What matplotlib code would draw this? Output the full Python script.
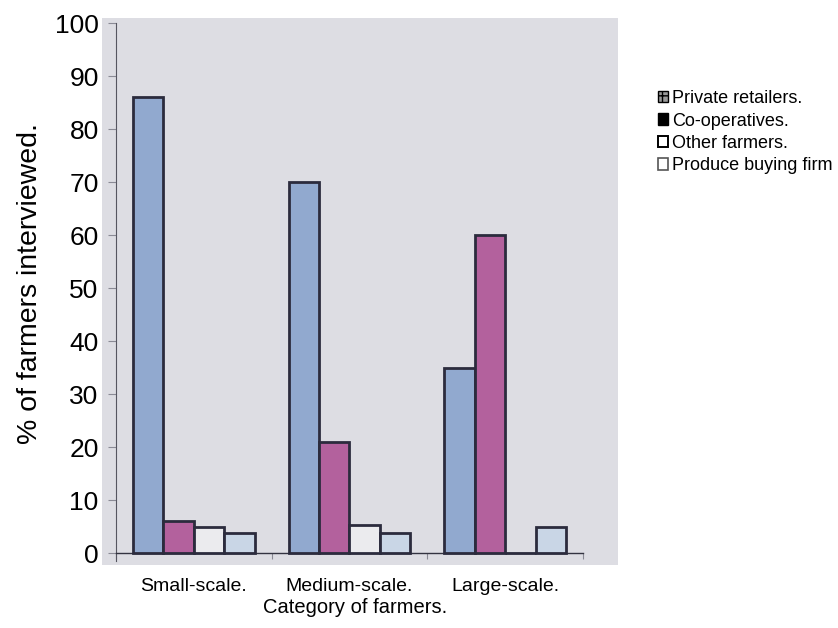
import matplotlib
matplotlib.use('Agg')
import matplotlib.pyplot as plt
from matplotlib.patches import Patch
import numpy as np

categories = ['Small-scale.', 'Medium-scale.', 'Large-scale.']
series_names = ['Private retailers.', 'Co-operatives.', 'Other farmers.', 'Produce buying firm']
private_retailers = [86, 70, 35]
co_operatives = [6, 21, 60]
other_farmers = [5, 5.2, 0]
produce_buying_firm = [3.8, 3.7, 5]

BAR_COLORS = ['#91a9cf', '#b3619d', '#ebebee', '#c9d6e6']
EDGE = '#2b2b3d'
BG = '#dddde3'
FONT = 'Liberation Sans'

plt.rcParams['font.family'] = [FONT, 'DejaVu Sans']

fig = plt.figure(figsize=(8.38, 6.28), dpi=100)
ax = fig.add_axes([0.1217, 0.1003, 0.6158, 0.871])
ax.set_facecolor(BG)

x = np.arange(len(categories))
width = 0.195
all_series = [private_retailers, co_operatives, other_farmers, produce_buying_firm]
for i, vals in enumerate(all_series):
    offset = (i - 1.5) * width
    ax.bar(x + offset, vals, width, color=BAR_COLORS[i], edgecolor=EDGE,
           linewidth=2, zorder=3)

ax.set_xlim(-0.59, 2.725)
ax.set_ylim(-2.26, 100.94)

for s in ['top', 'right']:
    ax.spines[s].set_visible(False)
ax.spines['left'].set_position(('data', -0.5))
ax.spines['left'].set_bounds(-1.5, 100)
ax.spines['left'].set_color('#555560')
ax.spines['left'].set_linewidth(0.8)
ax.spines['bottom'].set_position(('data', 0))
ax.spines['bottom'].set_bounds(-0.5, 2.5)
ax.spines['bottom'].set_color('#333340')
ax.spines['bottom'].set_linewidth(1.0)

ax.set_yticks(range(0, 101, 10))
ax.tick_params(axis='y', length=6, width=0.8, color='#8a8a95', pad=6.5,
               labelsize=19)
ax.set_xticks(x)
ax.set_xticklabels(categories, fontsize=14)
ax.tick_params(axis='x', which='major', length=0, pad=18)
ax.set_xticks([-0.5, 0.5, 1.5, 2.5], minor=True)
ax.tick_params(axis='x', which='minor', length=4, width=0.8, color='#8a8a95')

ax.set_ylabel('% of farmers interviewed.', fontsize=20.5)
ax.yaxis.set_label_coords(-0.115, 0.515)
ax.set_xlabel('Category of farmers.', fontsize=14.5)
ax.xaxis.set_label_coords(0.49, -0.06)

handles = [
    Patch(facecolor='#9a9a9a', edgecolor='black', hatch='++', linewidth=1),
    Patch(facecolor='black', edgecolor='black', linewidth=1),
    Patch(facecolor='white', edgecolor='black', linewidth=1.4),
    Patch(facecolor='white', edgecolor='#555555', linewidth=1.2),
]
fig.legend(handles, series_names, loc='upper left',
           bbox_to_anchor=(0.776, 0.868), frameon=False, fontsize=13,
           handlelength=0.6, handleheight=0.6, handletextpad=0.2,
           labelspacing=0.3, borderaxespad=0)

fig.savefig('out.png', dpi=100)
